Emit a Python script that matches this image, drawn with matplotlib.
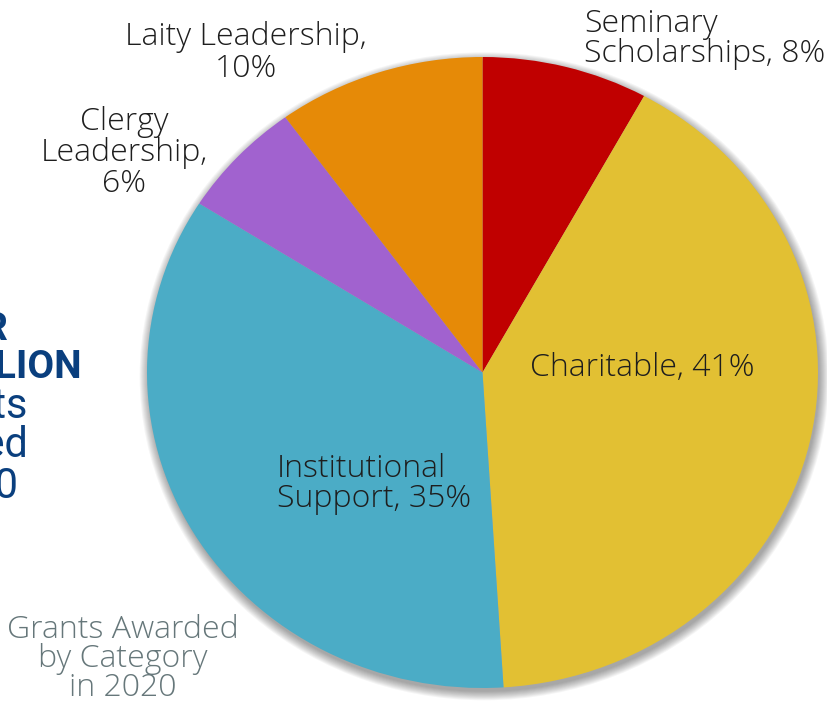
import matplotlib
matplotlib.use("Agg")
import matplotlib.pyplot as plt
from matplotlib.patches import Ellipse

W, H = 828, 704

# slices, clockwise from 12 o'clock
categories = ["Seminary Scholarships", "Charitable", "Institutional Support",
              "Clergy Leadership", "Laity Leadership"]
shares = [8, 41, 35, 6, 10]
colors = ["#C00000", "#E2C033", "#4BACC6", "#A162CF", "#E68A07"]

# text blocks: (x px, first baseline px, line step px, lines, align)
labels = [
    (584, 32, 30, ["Seminary", "Scholarships, 8%"], "left"),
    (246, 45, 32, ["Laity Leadership,", "10%"], "center"),
    (124, 130, 31, ["Clergy", "Leadership,", "6%"], "center"),
    (530, 376, 30, ["Charitable, 41%"], "left"),
    (277, 477, 30, ["Institutional", "Support, 35%"], "left"),
]
caption = ["Grants Awarded", "by Category", "in 2020"]
headline = ["OVER", "$1.2 MILLION"]
subline = ["in Grants", "Awarded", "in 2020"]

NAVY = "#0A3F7E"
TEXT = "#1E1E1E"
GREY = "#66777A"
FONT = "Open Sans"

fig = plt.figure(figsize=(W / 100, H / 100), dpi=100)
ax = fig.add_axes([0, 0, 1, 1])

# pie is slightly wider than tall in the reference
cx, cy, rx, ry = 482.5, 372.5, 335.5, 315.5

# soft halo under the pie
for k in range(10):
    r = 1 + 0.003 * k
    ax.add_patch(Ellipse((0.005, -0.012), 2 * r, 2 * r, color="black",
                         alpha=0.04, lw=0, zorder=0))

ax.pie(shares, colors=colors, startangle=90, counterclock=False, radius=1,
       wedgeprops=dict(linewidth=0, zorder=2))
ax.set_aspect("auto")
ax.set_xlim(-cx / rx, (W - cx) / rx)
ax.set_ylim(-(H - cy) / ry, cy / ry)
ax.axis("off")


def put(x, y0, step, lines, ha, **kw):
    for i, line in enumerate(lines):
        fig.text(x / W, 1 - (y0 + i * step) / H, line, ha=ha, va="baseline", **kw)


for x, y0, step, lines, ha in labels:
    put(x, y0, step, lines, ha, family=FONT, fontweight="light",
        fontsize=23, color=TEXT)

put(123, 638, 29, caption, "center", family=FONT, fontweight="light",
    fontsize=23, color=GREY)

# cropped side banner, only its right end shows
fig.text(8 / W, 1 - 340 / H, headline[0], ha="right", va="baseline",
         family="Roboto", fontweight="bold", fontsize=28, color=NAVY)
fig.text(82 / W, 1 - 378 / H, headline[1], ha="right", va="baseline",
         family="Roboto", fontweight="bold", fontsize=28, color=NAVY)
for xr, yb, line in zip([27, 28, 18], [418, 457, 498], subline):
    fig.text(xr / W, 1 - yb / H, line, ha="right", va="baseline",
             family="Roboto", fontsize=30, color=NAVY)

fig.savefig("out.png", dpi=100)
